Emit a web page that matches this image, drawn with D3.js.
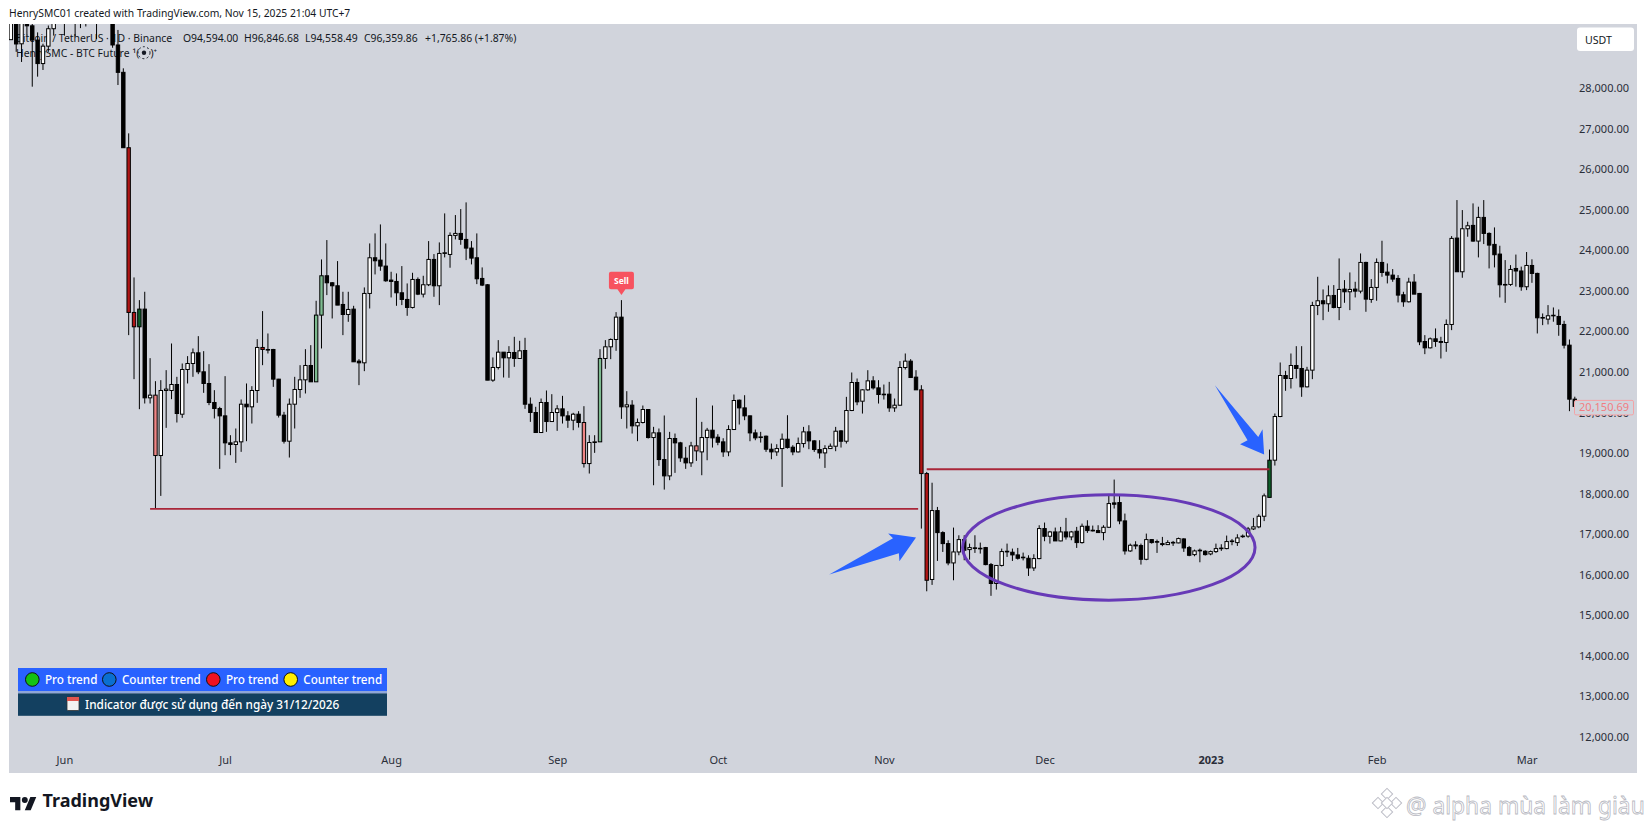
<!DOCTYPE html>
<html>
<head>
<meta charset="utf-8">
<style>
	html, body { margin: 0; padding: 0; background: #fff; }
	svg { display: block; }
	text { font-family: "Noto Sans", sans-serif; fill: #131722; }
</style>
<script src="https://cdn.jsdelivr.net/npm/d3@7"></script>
</head>
<body>
<script>
// bar index 0 is Jun 1 2022, first visible bar is May 22
const firstBar = -10;
const opens = [
	29200,30300,29098,29655,29542,29190,28610,29040,29470,31734,
	31801,29805,30452,29700,29864,29920,31373,31125,30204,30109,
	29069,28394,26534,22469,22115,22551,20362,20428,18938,20543,
	20543,20691,19958,21061,21209,21473,21004,20716,20247,20098,
	19917,19251,19210,19276,20205,20140,20543,21605,21555,21555,
	20823,19934,19292,20205,20568,20806,21160,20757,22403,23374,
	23201,23127,22666,22419,22551,21267,21226,22938,23818,23760,
	23613,23267,23234,22954,22790,22592,23283,22921,23152,23777,
	23127,23925,23900,24370,24419,24271,24057,23818,23308,23152,
	20798,21111,21489,21349,21481,21333,21530,20205,20000,19506,
	20247,19777,20000,20090,19917,19810,19958,19753,18740,19259,
	19276,21333,21621,21802,22353,20140,20181,19671,19753,20074,
	19382,19498,18839,18436,19358,19251,18872,18757,19177,19028,
	19382,19563,19390,19275,19028,19580,20304,20114,19917,19497,
	19382,19415,19094,19028,19110,19341,19143,19028,19234,19522,
	19300,19086,19003,19110,19168,19546,19291,20049,20740,20279,
	20559,20781,20608,20452,20452,20114,20180,21110,21267,20872,
	20559,18493,15880,17580,17036,16765,16288,16559,16864,16617,
	16660,16650,16667,16247,15781,16226,16576,16552,16486,16430,
	16403,16164,16395,17136,16946,17053,16831,17053,16930,17070,
	16790,17193,17095,17086,17037,17168,17769,17778,17325,16584,
	16732,16716,16378,16864,16815,16765,16740,16795,16782,16880,
	16667,16493,16602,16576,16510,16568,16655,16642,16830,16790,
	16943,16950,17127,17178,17440,17905,18823,19901,20913,20839,
	21160,21086,20633,21045,22641,22757,22683,22888,22592,23045,
	22979,23045,22995,23703,22790,23086,23703,23464,23390,23308,
	22905,22732,23218,22938,21752,21596,21818,21752,21728,22172,
	24304,23473,24534,24617,24230,24814,24419,24148,23909,23160,
	23160,23554,23492,23103,23628,23432,22345,22304,22400,22370,
	22173,21662,20329
];
const highs = [
	30500,30670,29800,29850,29800,29380,29100,29550,32200,32399,
	31982,30690,30693,29950,30170,31700,31549,31330,30700,30330,
	29440,28493,26888,23333,22773,22979,21341,20773,20798,21045,
	21703,20880,21209,21391,21580,21884,21514,21193,20551,20140,
	20897,19440,19605,20321,20716,20650,21810,22502,21950,21570,
	20830,20016,20345,20880,21168,21563,21662,22757,23777,24255,
	23220,23736,22979,22979,22633,21316,23086,24172,24419,24641,
	24172,23473,23432,23613,23185,23448,23333,23374,24230,23909,
	24197,24913,24444,24872,25020,25185,24230,24419,23580,23168,
	21358,21786,21489,21637,21868,21769,21843,20370,20140,20345,
	20543,20452,20181,20411,20033,19992,20033,20156,19440,19440,
	21563,21786,21827,22477,22773,20526,20304,19851,20172,20085,
	19646,19605,19926,19522,19481,19276,19152,19276,20362,19769,
	19620,20172,19464,19365,19686,20444,20320,20427,19925,19580,
	19522,19431,19234,19217,19481,19933,19193,19382,19645,19686,
	19316,19316,19193,19234,19645,19563,20386,20987,20839,20575,
	21044,20896,20798,20690,20756,20345,21267,21456,21316,21044,
	20674,18534,18267,17670,17069,16847,17160,16970,16971,16765,
	16971,16790,16683,16287,16230,16642,16765,16642,16658,16543,
	16477,16502,17218,17284,17078,17160,17177,17399,17078,17177,
	17259,17341,17210,17218,17218,17983,18345,17959,17506,16765,
	16823,16765,17012,16864,16864,16930,16848,16831,16913,16897,
	16707,16617,16642,16601,16593,16765,16749,16963,16880,16996,
	16990,17176,17400,17490,18000,19086,19975,21234,21028,21456,
	21637,21637,21127,22732,23349,23037,23135,23144,23802,23267,
	23456,23226,23925,23720,23292,23802,24238,23678,23539,23390,
	22979,23325,23415,22950,21909,21851,22074,21868,22296,24353,
	25242,24995,24707,25160,25078,25242,24445,24567,24115,23761,
	23637,23897,23600,23960,23780,23450,22444,22650,22592,22543,
	22263,21802,20390
];
const lows = [
	29240,28900,28650,29300,28040,28287,28452,28900,29300,31200,
	29300,29588,29282,29485,29525,29890,29218,29843,29944,29000,
	28081,26534,21909,20823,20082,20222,20222,17622,17942,19621,
	20329,19753,19868,20716,20880,20946,20485,20181,19852,18609,
	18946,18946,18757,19029,19292,19728,20238,21168,21456,20633,
	19876,19234,18889,19605,20362,20469,20757,20757,21580,22897,
	22320,22650,21909,22238,21251,20675,21020,22567,23407,23497,
	23226,22839,22633,22650,22386,22567,22897,22839,23119,22855,
	22650,23827,23572,24271,24139,23761,23654,23168,23119,20798,
	20757,21061,20864,20856,21127,21325,20090,19769,19500,19506,
	19522,19769,19547,19728,19621,19563,19629,18642,18494,19004,
	19276,21078,21316,21522,19843,19605,19481,19292,19730,19358,
	18205,18683,18098,18329,18510,18782,18609,18658,18806,18452,
	18822,19135,19193,18905,18921,19570,19703,19810,19291,19316,
	19258,19028,18847,18929,18164,19110,18946,19012,19135,19094,
	19028,18863,18633,19105,19045,19135,19234,20035,20180,19974,
	20535,20567,20221,20320,20016,20016,20170,21061,20863,20559,
	17135,15588,15746,16337,16559,16230,15860,16477,16354,16370,
	16535,16518,16230,15476,15630,16200,16436,16337,16370,16350,
	15967,16090,16380,16823,16765,16831,16823,16864,16848,16658,
	16765,17029,17065,17029,16848,17150,17630,17243,16494,16560,
	16626,16247,16355,16765,16535,16700,16730,16708,16773,16560,
	16453,16453,16304,16470,16478,16535,16585,16625,16725,16707,
	16907,16910,17100,17145,17320,17900,18691,19885,20535,20592,
	20839,20387,20620,20823,22403,22279,22485,22570,22279,22707,
	22526,22839,22940,22485,22707,22757,23349,23185,23225,22716,
	22609,22715,22921,21662,21440,21580,21621,21333,21498,22032,
	23473,23325,24337,24215,23827,24156,23555,23580,22839,22707,
	23125,23106,23004,23020,23200,21950,22156,22173,22240,21893,
	21580,20033,20030
];
const closes = [
	30300,29094,29655,29542,29190,28610,29040,29470,31734,31801,
	29805,30452,29700,29864,29920,31373,31125,30204,30109,29069,
	28394,26534,22469,22115,22551,20362,20428,18938,20543,20577,
	20691,19975,21061,21209,21473,21004,20716,20247,20098,19917,
	19251,19210,19276,20205,20140,20543,21605,21555,21547,20823,
	19934,19292,20205,20568,20806,21160,20757,22403,23374,23201,
	23127,22650,22419,22543,21251,21226,22938,23818,23744,23613,
	23250,23234,22954,22790,22592,23283,22921,23152,23777,23127,
	23925,23942,24370,24419,24271,24057,23810,23300,23144,20798,
	21111,21489,21349,21481,21333,21522,20205,20000,19506,20247,
	19777,20000,20090,19917,19810,19958,19753,18740,19259,19276,
	21333,21621,21802,22353,20140,20189,19671,19753,20074,19382,
	19498,18839,18436,19358,19251,18880,18757,19177,19053,19382,
	19563,19374,19267,19028,19580,20296,20114,19917,19497,19374,
	19398,19094,19028,19110,19341,19135,19028,19234,19522,19300,
	19086,19003,19110,19168,19538,19291,20049,20740,20263,20559,
	20781,20608,20444,20452,20114,20180,21110,21267,20863,20559,
	18493,15860,17580,17036,16765,16288,16559,16864,16601,16667,
	16650,16640,16247,15781,16226,16568,16560,16486,16403,16415,
	16164,16395,17136,16946,17053,16831,17053,16930,17053,16790,
	17193,17086,17078,17037,17168,17753,17736,17325,16584,16724,
	16708,16378,16864,16790,16800,16742,16790,16780,16889,16658,
	16477,16584,16586,16493,16568,16642,16640,16815,16815,16905,
	16950,17127,17178,17440,17943,18823,19901,20913,20839,21160,
	21086,20633,21045,22641,22757,22683,22880,22592,23037,22979,
	23037,22995,23703,22798,23086,23703,23456,23390,23292,22897,
	22732,23218,22921,21744,21596,21818,21752,21730,22172,24296,
	23473,24534,24608,24230,24814,24419,24131,23893,23152,23145,
	23530,23492,23103,23628,23432,22337,22330,22387,22385,22173,
	21662,20329,20150.69
];

// bars painted by the indicator
const darkRedBars = [12, 13, 37, 160, 161];
const darkGreenBars = [14, 225];
const paleRedBars = [17, 97, 118];
const paleGreenBars = [47, 48, 100];

const monthTicks = [0, 30, 61, 92, 122, 153, 183, 214, 245, 273];
const monthLabels = ["Jun", "Jul", "Aug", "Sep", "Oct", "Nov", "Dec", "2023", "Feb", "Mar"];
const priceTicks = [12000,13000,14000,15000,16000,17000,18000,19000,20000,21000,22000,23000,24000,25000,26000,27000,28000];

// [from bar, to bar, price]
const levels = [[16, 159.4, 17622], [161, 225, 18600]];
// [bar, price] corners of the two arrows
const arrowOne = [[142.8,16000],[154.7,16897],[153.8,17013],[159,16914],[155.9,16329],[155.8,16527]];
const arrowTwo = [[214.8,20674],[222.9,19398],[223.7,19588],[224,18963],[219.5,19218],[220.9,19316]];
// bar, price, half width in bars, half height in price
const rangeOval = [195, 16670, 27.3, 1300];

const legendItems = [
	{ label: "Pro trend", color: "#14c114" },
	{ label: "Counter trend", color: "#0a6fd1" },
	{ label: "Pro trend", color: "#f0121f" },
	{ label: "Counter trend", color: "#ffee00" }
];

const width = 1647, height = 828;
const plot = { left: 9, right: 1637, top: 24, bottom: 773 };

const x = d3.scaleLinear().domain([0, 282]).range([64.4, 1574.8]);
const y = d3.scaleLinear().domain([12000, 28000]).range([736.7, 88.3]);

const svg = d3.select("body").append("svg").attr("width", width).attr("height", height);

svg.append("defs").append("clipPath").attr("id", "plot-clip").append("rect")
	.attr("x", plot.left).attr("y", plot.top)
	.attr("width", plot.right - plot.left).attr("height", plot.bottom - plot.top);

svg.append("text").attr("x", 9).attr("y", 16.6).attr("font-size", 10.3)
	.text("HenrySMC01 created with TradingView.com, Nov 15, 2025 21:04 UTC+7");

svg.append("rect")
	.attr("x", plot.left).attr("y", plot.top)
	.attr("width", plot.right - plot.left).attr("height", plot.bottom - plot.top)
	.attr("fill", "#d1d4dc");

// legend text sits under the candles
const titleParts = [
	[16, "Bitcoin / TetherUS · 1D · Binance"],
	[183, "O94,594.00"], [244, "H96,846.68"], [305, "L94,558.49"], [364, "C96,359.86"],
	[425, "+1,765.86 (+1.87%)"]
];
svg.append("g").selectAll("text").data(titleParts).join("text")
	.attr("x", d => d[0]).attr("y", 41.5).attr("font-size", 10.4).text(d => d[1]);
svg.append("text").attr("x", 16).attr("y", 56.5).attr("font-size", 10.4).text("HenrySMC - BTC Future");
svg.append("text").attr("x", 132.5).attr("y", 56.5).attr("font-size", 10.4).text("¹(");
svg.append("text").attr("x", 150.5).attr("y", 56.5).attr("font-size", 10.4).text(")⁺");
const gear = svg.append("g").attr("transform", "translate(144,52.7)");
gear.append("circle").attr("r", 6).attr("fill", "none").attr("stroke", "#131722").attr("stroke-dasharray", "2 2.4");
gear.append("circle").attr("r", 2.2).attr("fill", "#131722");

const bars = opens.map((o, i) => ({ i: i + firstBar, o: o, h: highs[i], l: lows[i], c: closes[i] }));

function bodyColor(d) {
	if (darkRedBars.includes(d.i)) return "#b01515";
	if (darkGreenBars.includes(d.i)) return "#0d5f2a";
	if (paleRedBars.includes(d.i)) return "#ef8585";
	if (paleGreenBars.includes(d.i)) return "#7dbb90";
	return d.c >= d.o ? "#ffffff" : "#000000";
}

const candles = svg.append("g").attr("clip-path", "url(#plot-clip)");
const bodyWidth = 3.4;

candles.selectAll("line.wick").data(bars).join("line")
	.attr("class", "wick")
	.attr("x1", d => x(d.i)).attr("x2", d => x(d.i))
	.attr("y1", d => y(d.h)).attr("y2", d => y(d.l))
	.attr("stroke", "#000").attr("stroke-width", 1);

candles.selectAll("rect.body").data(bars).join("rect")
	.attr("class", "body")
	.attr("x", d => x(d.i) - bodyWidth / 2)
	.attr("width", bodyWidth)
	.attr("y", d => y(Math.max(d.o, d.c)))
	.attr("height", d => Math.max(0.6, Math.abs(y(d.o) - y(d.c))))
	.attr("fill", d => bodyColor(d))
	.attr("stroke", "#000").attr("stroke-width", 1);

// horizontal levels
svg.append("g").selectAll("line").data(levels).join("line")
	.attr("x1", d => x(d[0])).attr("x2", d => x(d[1]))
	.attr("y1", d => y(d[2])).attr("y2", d => y(d[2]))
	.attr("stroke", "#a92639").attr("stroke-width", 1.8);

svg.append("ellipse")
	.attr("cx", x(rangeOval[0])).attr("cy", y(rangeOval[1]))
	.attr("rx", x(rangeOval[2]) - x(0)).attr("ry", y(0) - y(rangeOval[3]))
	.attr("fill", "none").attr("stroke", "#673ab7").attr("stroke-width", 3);

const arrowLine = d3.line().x(d => x(d[0])).y(d => y(d[1]));
svg.append("g").selectAll("path").data([arrowOne, arrowTwo]).join("path")
	.attr("d", d => arrowLine(d) + "Z")
	.attr("fill", "#2962ff");

// sell marker over its bar
const sellBar = bars.find(d => d.i === 104);
const sell = svg.append("g").attr("transform", `translate(${x(sellBar.i)},${y(sellBar.h) - 5})`);
sell.append("path").attr("d", "M-12.5,-21.3 a2,2 0 0 1 2,-2 h21 a2,2 0 0 1 2,2 v13.5 a2,2 0 0 1 -2,2 h-6.5 l-4,5.8 l-4,-5.8 h-6.5 a2,2 0 0 1 -2,-2 z").attr("fill", "#f7525f");
sell.append("text").attr("y", -11.5).attr("text-anchor", "middle").attr("font-size", 8.5).attr("font-weight", 700).style("fill", "#fff").text("Sell");

// axes
const yAxis = d3.axisRight(y).tickValues(priceTicks).tickSize(0).tickFormat(d3.format(",.2f"));
const yG = svg.append("g").attr("transform", "translate(1576,0)").call(yAxis);
yG.select(".domain").remove();
yG.selectAll("text").attr("font-size", 11).attr("font-family", '"Noto Sans", sans-serif').attr("x", 53).attr("text-anchor", "end").style("fill", "#2a2e39");

const xAxis = d3.axisBottom(x).tickValues(monthTicks).tickSize(0).tickFormat((d, i) => monthLabels[i]);
const xG = svg.append("g").attr("transform", "translate(0,753.5)").call(xAxis);
xG.select(".domain").remove();
xG.selectAll("text").attr("font-size", 11).attr("font-family", '"Noto Sans", sans-serif').style("fill", "#2a2e39")
	.attr("font-weight", (d, i) => monthLabels[i] === "2023" ? 700 : 400);

// last price tag and currency button
const lastClose = closes[closes.length - 1];
const tag = svg.append("g").attr("transform", `translate(1574,${y(lastClose) - 6.5})`);
tag.append("rect").attr("x", 0.5).attr("y", 0.5).attr("width", 59).attr("height", 14.5).attr("rx", 1.5)
	.attr("fill", "#d1d4dc").attr("stroke", "#f4a3a6");
tag.append("text").attr("x", 55).attr("y", 11.5).attr("text-anchor", "end").attr("font-size", 11)
	.style("fill", "#f27d82").text(d3.format(",.2f")(lastClose));

svg.append("rect").attr("x", 1577).attr("y", 27.5).attr("width", 57).attr("height", 23.5).attr("rx", 3).attr("fill", "#fff");
svg.append("text").attr("x", 1585).attr("y", 44).attr("font-size", 10.6).text("USDT");

// trend legend table
svg.append("rect").attr("x", 18).attr("y", 668).attr("width", 369).attr("height", 23).attr("fill", "#2962ff");
svg.append("rect").attr("x", 18).attr("y", 691).attr("width", 369).attr("height", 2.4).attr("fill", "#8fa6d8");
svg.append("rect").attr("x", 18).attr("y", 693.4).attr("width", 369).attr("height", 22.4).attr("fill", "#134060");

const legendX = [32.3, 109.3, 213.3, 290.7];
const legend = svg.append("g").selectAll("g").data(legendItems).join("g")
	.attr("transform", (d, i) => `translate(${legendX[i]},679.5)`);
legend.append("circle").attr("r", 6.8).attr("fill", d => d.color).attr("stroke", "#111").attr("stroke-width", 1);
legend.append("text").attr("x", 12.6).attr("y", 4.3).attr("font-size", 11.7).attr("font-weight", 500)
	.style("fill", "#fff").text(d => d.label);

const cal = svg.append("g").attr("transform", "translate(67,697)");
cal.append("rect").attr("width", 12).attr("height", 13.5).attr("rx", 1).attr("fill", "#f2f2f2").attr("stroke", "#333").attr("stroke-width", 0.8);
cal.append("rect").attr("width", 12).attr("height", 4).attr("fill", "#e0554f");
svg.append("text").attr("x", 85).attr("y", 708.6).attr("font-size", 11.8).attr("font-weight", 500)
	.style("fill", "#fff").text("Indicator được sử dụng đến ngày 31/12/2026");

// footer logo
const logo = svg.append("g").attr("transform", "translate(10,794) scale(0.74)");
logo.append("path").attr("d", "M14 22H7V11H0V4h14v18zM28 22h-8l7.5-18h8L28 22z").attr("fill", "#131722");
logo.append("circle").attr("cx", 20).attr("cy", 8).attr("r", 4).attr("fill", "#131722");
svg.append("text").attr("x", 42.5).attr("y", 807).attr("font-size", 18).attr("font-weight", 700).text("TradingView");

// reposted watermark, outlined letters
const mark = svg.append("g").attr("transform", "translate(1387,803)")
	.attr("fill", "#fff").attr("stroke", "#bcbdc6").attr("stroke-width", 1);
[[0, -9], [-9, 0], [9, 0], [0, 9], [0, 0]].forEach(p => {
	mark.append("rect").attr("x", -4).attr("y", -4).attr("width", 8).attr("height", 8)
		.attr("transform", `translate(${p[0]},${p[1]}) rotate(45)`);
});
svg.append("text").attr("x", 1406).attr("y", 814).attr("font-size", 22.8)
	.style("fill", "#fff").style("stroke", "#b8b9c2").style("stroke-width", 0.8)
	.text("@ alpha mùa làm giàu");
</script>
</body>
</html>
